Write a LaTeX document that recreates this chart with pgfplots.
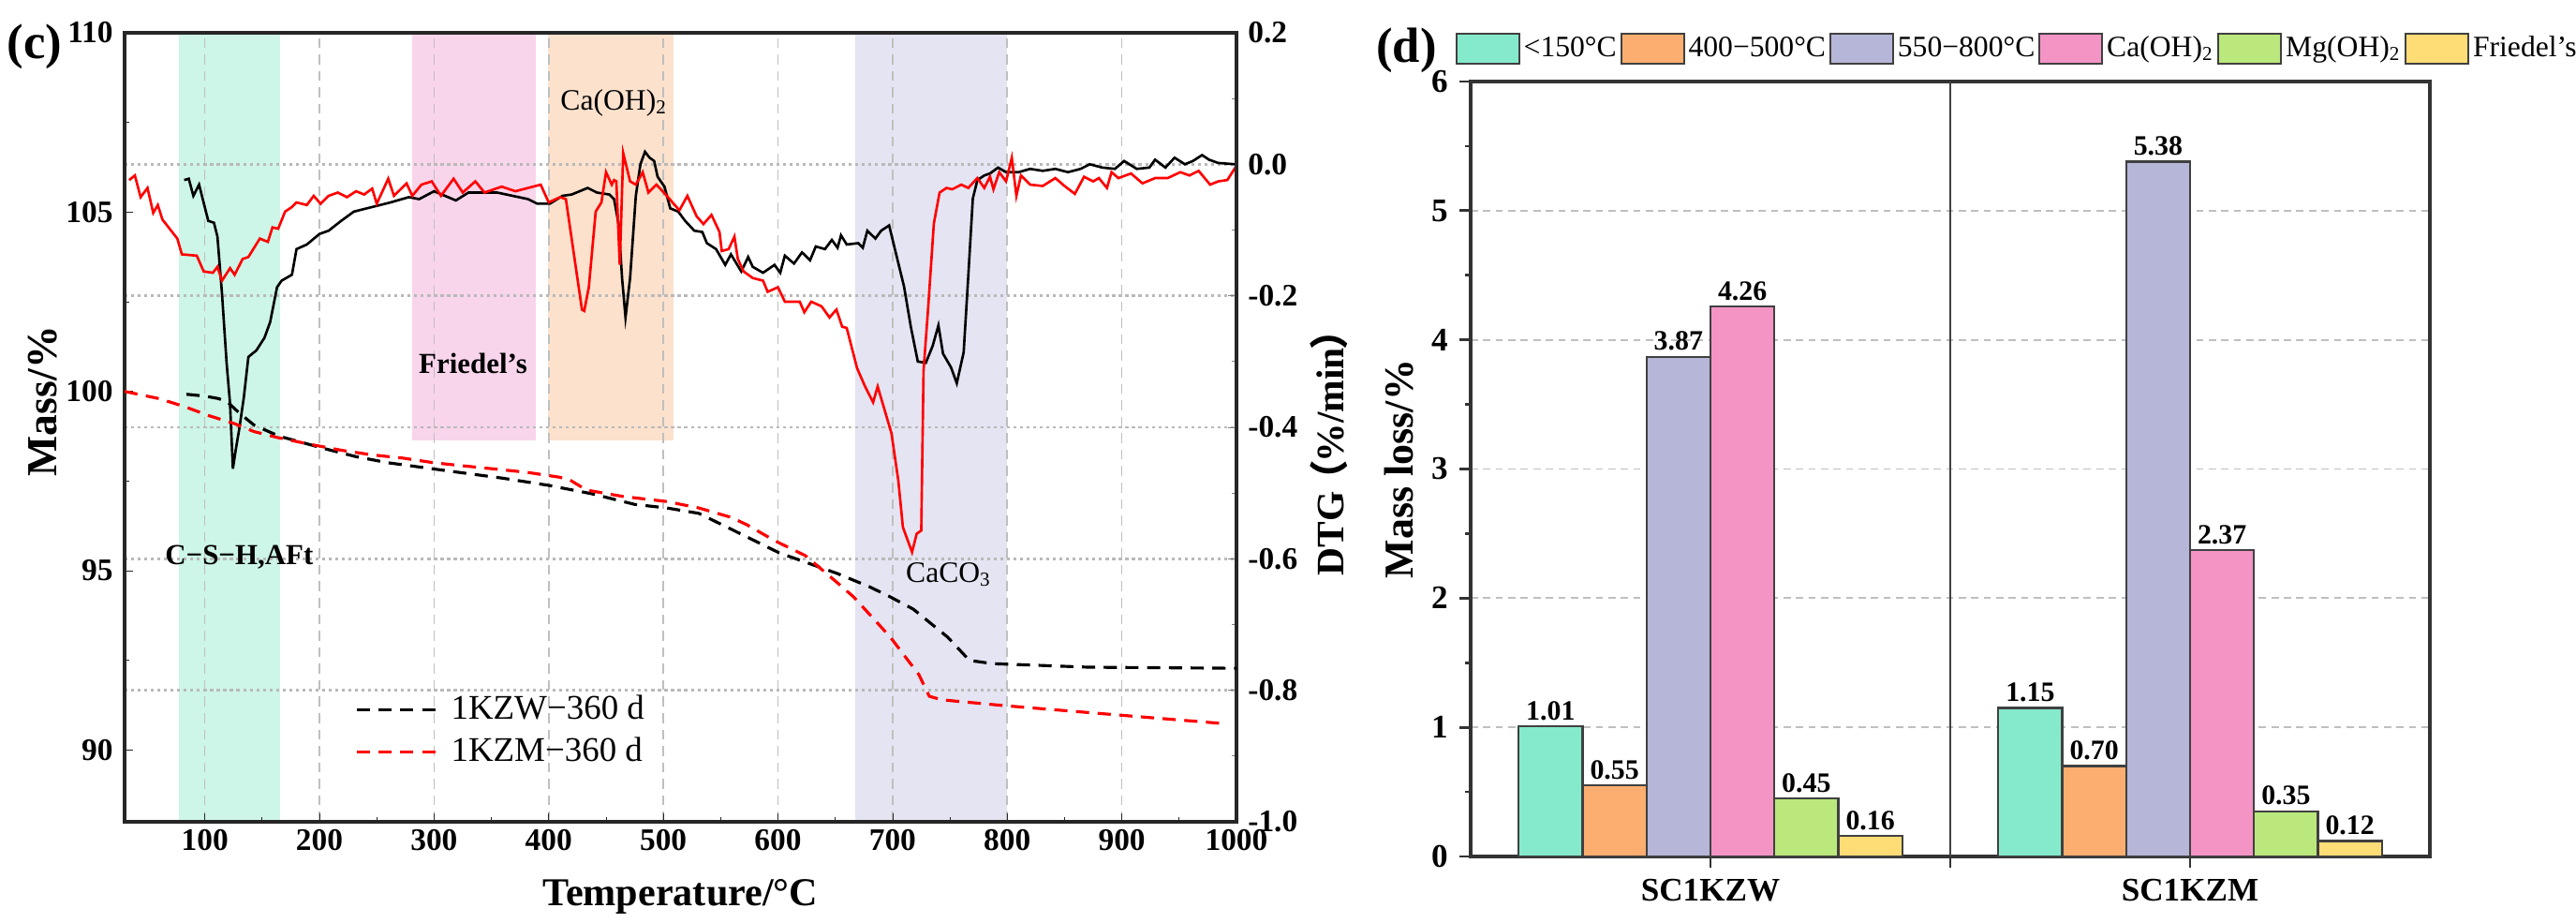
\documentclass[border=0pt]{standalone}
\usepackage{pgfplots}
\pgfplotsset{compat=1.18}
\usepackage{fontspec}
\setmainfont{Liberation Serif}
\newfontfamily\cjk{Noto Sans CJK SC}
\definecolor{bgreen}{RGB}{205,245,232}
\definecolor{bpink}{RGB}{248,213,235}
\definecolor{borange}{RGB}{252,225,205}
\definecolor{bpurple}{RGB}{228,228,242}
\definecolor{cA}{RGB}{133,234,204}
\definecolor{cB}{RGB}{251,174,112}
\definecolor{cC}{RGB}{182,182,216}
\definecolor{cD}{RGB}{243,148,197}
\definecolor{cE}{RGB}{186,232,124}
\definecolor{cF}{RGB}{254,220,118}
\begin{document}
\begin{tikzpicture}
\pgfplotsset{
  /pgf/number format/assume math mode=true,
  /pgf/number format/1000 sep={},
  leftpanel/.style={at={(1.33cm,1.08cm)}, anchor=south west, scale only axis,
    width=11.87cm, height=8.42cm, xmin=30, xmax=1000},
  tfont/.style={font=\bfseries\fontsize{9.5}{10}\selectfont},
}
% ---------- background bands and grid ----------
\begin{axis}[leftpanel, ymin=-1, ymax=0.2, axis on top,
  axis line style={draw=none}, tick style={draw=none},
  xtick={100,200,...,900}, ytick={-0.8,-0.6,-0.4,-0.2,0},
  xticklabels={}, yticklabels={}, xmajorgrids, ymajorgrids,
  x grid style={gray!50, dash pattern=on 3pt off 2pt, line width=0.45pt},
  y grid style={gray!55, dash pattern=on 0.9pt off 1.1pt, line width=0.7pt}]
\addplot[fill=bgreen, draw=none] coordinates {(77,-1) (77,0.2) (166,0.2) (166,-1)} -- cycle;
\addplot[fill=bpink, draw=none] coordinates {(281,-0.42) (281,0.2) (389,0.2) (389,-0.42)} -- cycle;
\addplot[fill=borange, draw=none] coordinates {(399,-0.42) (399,0.2) (509,0.2) (509,-0.42)} -- cycle;
\addplot[fill=bpurple, draw=none] coordinates {(667,-1) (667,0.2) (800,0.2) (800,-1)} -- cycle;
\end{axis}
% ---------- DTG (right axis) ----------
\begin{axis}[leftpanel, ymin=-1, ymax=0.2, axis y line*=right, axis x line=none,
  ytick={-1,-0.8,-0.6,-0.4,-0.2,0,0.2}, minor y tick num=1, tick align=inside,
  major tick length=0.09cm, minor tick length=0.05cm,
  y axis line style={line width=1pt, black!85},
  yticklabel style={tfont, inner ysep=0.5pt, /pgf/number format/.cd, fixed, fixed zerofill, precision=1},
  ylabel={DTG\kern-0.2em{\cjk （}\kern-0.05em\%/min\kern-0.05em{\cjk ）}},
  every axis y label/.style={at={(axis description cs:1.083,0.48)}, rotate=90, anchor=center,
    font=\bfseries\fontsize{11.8}{13}\selectfont}]
\addplot[black, line width=0.75pt] coordinates {
(82,-0.024) (86,-0.022) (90,-0.048) (95,-0.031) (103,-0.086) (108,-0.089) (111,-0.110)
(115,-0.197) (119,-0.302) (122,-0.364) (124.5,-0.463) (127,-0.434) (130,-0.403) (134,-0.355)
(138,-0.293) (145,-0.283) (152,-0.264) (157,-0.240) (163,-0.187) (167,-0.177) (176,-0.168)
(180,-0.129) (189,-0.122) (200,-0.106) (208,-0.101) (219,-0.086) (230,-0.072) (246,-0.065)
(262,-0.058) (278,-0.050) (287,-0.053) (300,-0.041) (319,-0.055) (330,-0.043) (355,-0.043)
(382,-0.053) (390,-0.060) (401,-0.060) (412,-0.048) (420,-0.046) (434,-0.036) (442,-0.043)
(453,-0.046) (457,-0.053) (461,-0.091) (464,-0.173) (467,-0.233) (471,-0.173) (476,-0.048)
(480,0.000) (484,0.019) (488,0.010) (492,0.005) (495,-0.019) (501,-0.034) (506,-0.067)
(513,-0.072) (519,-0.086) (527,-0.101) (534,-0.103) (538,-0.120) (546,-0.129) (554,-0.153)
(559,-0.137) (568,-0.163) (574,-0.141) (578,-0.156) (587,-0.165) (597,-0.153) (602,-0.165)
(606,-0.139) (614,-0.151) (621,-0.134) (628,-0.146) (633,-0.125) (641,-0.129) (647,-0.115)
(652,-0.127) (655,-0.108) (660,-0.122) (670,-0.120) (674,-0.127) (678,-0.101) (685,-0.113)
(690,-0.101) (697,-0.093) (702,-0.129) (710,-0.186) (716,-0.248) (722,-0.300) (729,-0.302)
(735,-0.276) (740,-0.245) (744,-0.288) (751,-0.309) (756,-0.333) (762,-0.286) (766,-0.171)
(770,-0.052) (774,-0.024) (780,-0.017) (785,-0.014) (792,-0.005) (799,-0.012) (810,-0.012)
(820,-0.007) (831,-0.010) (842,-0.007) (853,-0.012) (864,-0.007) (872,0.000) (883,-0.005)
(894,-0.007) (902,0.005) (913,-0.007) (924,-0.005) (929,0.007) (938,-0.005) (946,0.010)
(955,0.000) (962,0.005) (970,0.014) (976,0.007) (984,0.002) (999,0.000)};
\addplot[red, line width=0.75pt] coordinates {
(34,-0.024) (39,-0.017) (44,-0.050) (50,-0.036) (55,-0.074) (59,-0.062) (63,-0.084)
(76,-0.113) (80,-0.137) (93,-0.139) (99,-0.163) (107,-0.165) (111,-0.156) (115,-0.177)
(122,-0.158) (126,-0.168) (133,-0.144) (138,-0.141) (148,-0.113) (155,-0.118) (159,-0.096)
(164,-0.098) (170,-0.072) (176,-0.065) (180,-0.058) (189,-0.062) (195,-0.048) (201,-0.060)
(208,-0.048) (216,-0.043) (224,-0.050) (232,-0.041) (239,-0.046) (246,-0.037) (250,-0.060)
(260,-0.022) (265,-0.048) (276,-0.029) (281,-0.048) (289,-0.031) (298,-0.026) (306,-0.048)
(317,-0.022) (325,-0.043) (336,-0.026) (344,-0.043) (359,-0.034) (371,-0.041) (393,-0.031)
(400,-0.058) (410,-0.050) (415,-0.053) (423,-0.149) (429,-0.221) (431,-0.223) (435,-0.187)
(441,-0.072) (446,-0.058) (450,-0.012) (455,-0.031) (457,-0.024) (459,-0.026) (462,-0.153)
(465,0.017) (471,-0.026) (476,-0.031) (482,-0.012) (487,-0.043) (494,-0.031) (502,-0.046)
(508,-0.058) (514,-0.070) (521,-0.048) (529,-0.079) (535,-0.091) (542,-0.077) (549,-0.103)
(551,-0.132) (557,-0.129) (562,-0.110) (565,-0.144) (570,-0.163) (578,-0.173) (587,-0.177)
(591,-0.194) (600,-0.187) (606,-0.209) (619,-0.209) (623,-0.225) (629,-0.209) (638,-0.216)
(645,-0.233) (651,-0.221) (656,-0.247) (660,-0.249) (669,-0.310) (676,-0.338) (683,-0.362)
(687,-0.338) (699,-0.409) (705,-0.481) (709,-0.552) (717,-0.590) (721,-0.562) (725,-0.557)
(727,-0.314) (731,-0.219) (736,-0.090) (741,-0.043) (747,-0.036) (752,-0.038) (760,-0.031)
(766,-0.036) (774,-0.021) (780,-0.036) (785,-0.019) (788,-0.038) (793,-0.012) (799,-0.026)
(804,0.010) (808,-0.048) (812,-0.017) (820,-0.031) (831,-0.033) (842,-0.021) (850,-0.033)
(859,-0.045) (867,-0.019) (875,-0.026) (880,-0.021) (887,-0.036) (891,-0.012) (897,-0.021)
(908,-0.014) (918,-0.029) (929,-0.021) (940,-0.021) (951,-0.012) (959,-0.017) (967,-0.010)
(977,-0.031) (984,-0.026) (992,-0.024) (999,-0.005)};
\end{axis}
% ---------- TG (left axis) ----------
\begin{axis}[leftpanel, clip=false, ymin=88, ymax=110, ytick={90,95,100,105,110}, minor y tick num=1,
  xtick={100,200,...,1000}, minor x tick num=1, ytick pos=left, xtick pos=bottom,
  tick align=inside, major tick length=0.09cm, minor tick length=0.05cm,
  axis line style={line width=1pt, black!85}, tick style={black!85},
  tick label style={tfont},
  xticklabel style={inner ysep=0.5pt, yshift=-1.6pt},
  xlabel={Temperature/°C}, ylabel={Mass/\%},
  every axis x label/.style={at={(axis description cs:0.5,-0.095)}, anchor=center,
    font=\bfseries\fontsize{12}{13}\selectfont},
  every axis y label/.style={at={(axis description cs:-0.074,0.533)}, rotate=90, anchor=center,
    font=\bfseries\fontsize{13}{14}\selectfont},
  legend image code/.code={\draw[#1] (0cm,0cm) -- (0.92cm,0cm);},
  legend style={draw=none, fill=none, inner sep=0pt, at={(0.207,0.1152)}, anchor=west,
    font=\fontsize{10.5}{11}\selectfont},
  legend cell align=left]
\addplot[black, line width=0.9pt, dash pattern=on 4pt off 2.6pt] coordinates {
(84,99.92) (100,99.87) (112,99.80) (120,99.70) (130,99.40) (143,99.06) (165,98.75)
(205,98.40) (232,98.18) (260,98.01) (290,97.88) (320,97.75) (360,97.58) (400,97.38)
(437,97.15) (475,96.85) (503,96.75) (531,96.60) (568,96.02) (601,95.50) (652,94.92)
(680,94.55) (698,94.27) (718,93.93) (748,93.15) (767,92.50) (787,92.41) (871,92.31)
(1000,92.28)};
\addlegendentry{1KZW−360 d}
\addplot[red, line width=0.9pt, dash pattern=on 4pt off 2.6pt] coordinates {
(30,100.0) (60,99.80) (82,99.58) (104,99.32) (126,99.10) (143,98.88) (164,98.71)
(191,98.53) (219,98.36) (246,98.23) (273,98.14) (300,98.01) (327,97.92) (355,97.83)
(382,97.74) (409,97.61) (418,97.54) (433,97.25) (465,97.07) (503,96.93) (531,96.75)
(559,96.49) (573,96.28) (597,95.84) (624,95.42) (652,94.66) (666,94.27) (698,93.15)
(723,92.10) (732,91.50) (743,91.40) (797,91.24) (896,90.98) (988,90.74)};
\addlegendentry{1KZM−360 d}
\node[font=\bfseries\fontsize{8.8}{9}\selectfont] at (axis cs:130,95.38) {C−S−H,AFt};
\node[font=\bfseries\fontsize{8.8}{9}\selectfont] at (axis cs:334,100.78) {Friedel's};
\node[font=\fontsize{9}{10}\selectfont] at (axis cs:457,108.04) {Ca(OH)\textsubscript{2}};
\node[font=\fontsize{9}{10}\selectfont] at (axis cs:749,94.9) {CaCO\textsubscript{3}};
\node[font=\bfseries\fontsize{15}{16}\selectfont] at (axis description cs:-0.081,0.982) {(c)};
\end{axis}
% ---------- bar chart (d) ----------
\begin{axis}[at={(15.70cm,0.71cm)}, anchor=south west, scale only axis, clip=false,
  width=10.24cm, height=8.27cm, ybar=0pt, bar width=0.1333,
  xmin=-0.5, xmax=1.5, ymin=0, ymax=6,
  xtick={0,1}, xticklabels={SC1KZW,SC1KZM}, ytick={0,1,...,6}, minor y tick num=1,
  tick align=outside, ytick pos=left, xtick pos=bottom,
  major tick length=0.12cm, minor tick length=0.06cm,
  axis line style={line width=1pt, black!80}, tick style={black!80, line width=0.8pt},
  tick label style={font=\bfseries\fontsize{10}{11}\selectfont},
  ymajorgrids, y grid style={gray!50, dash pattern=on 2.2pt off 1.6pt, line width=0.5pt},
  extra x ticks={0.5}, extra x tick labels={},
  extra x tick style={grid=major, major grid style={black!75, solid, line width=0.8pt}},
  ylabel={Mass loss/\%},
  every axis y label/.style={at={(axis description cs:-0.075,0.5)}, rotate=90, anchor=center,
    font=\bfseries\fontsize{12.5}{13}\selectfont},
  nodes near coords={\pgfmathprintnumber[fixed,fixed zerofill,precision=2]{\pgfplotspointmeta}},
  every node near coord/.append style={font=\bfseries\fontsize{8.5}{9}\selectfont, inner sep=1.5pt},
  legend columns=6,
  legend image code/.code={\draw[#1] (0cm,-0.16cm) rectangle (0.67cm,0.16cm);},
  legend style={draw=none, fill=none, inner sep=0pt, at={(-0.0166,1.042)}, anchor=west,
    font=\fontsize{9}{10}\selectfont, nodes={inner xsep=1.1pt, inner ysep=1pt},
    /tikz/every even column/.append style={column sep=0pt}},
  legend cell align=left]
\addplot[fill=cA, draw=black!75, line width=0.6pt] coordinates {(0,1.01) (1,1.15)};
\addlegendentry{<150°C}
\addplot[fill=cB, draw=black!75, line width=0.6pt] coordinates {(0,0.55) (1,0.70)};
\addlegendentry{400−500°C}
\addplot[fill=cC, draw=black!75, line width=0.6pt] coordinates {(0,3.87) (1,5.38)};
\addlegendentry{550−800°C}
\addplot[fill=cD, draw=black!75, line width=0.6pt] coordinates {(0,4.26) (1,2.37)};
\addlegendentry{Ca(OH)\textsubscript{2}}
\addplot[fill=cE, draw=black!75, line width=0.6pt] coordinates {(0,0.45) (1,0.35)};
\addlegendentry{Mg(OH)\textsubscript{2}}
\addplot[fill=cF, draw=black!75, line width=0.6pt] coordinates {(0,0.16) (1,0.12)};
\addlegendentry{Friedel's}
\node[font=\bfseries\fontsize{15}{16}\selectfont] at (axis description cs:-0.067,1.04) {(d)};
\end{axis}
\pgfresetboundingbox
\path (0,0) rectangle (27.5cm,9.85cm);
\end{tikzpicture}
\end{document}
